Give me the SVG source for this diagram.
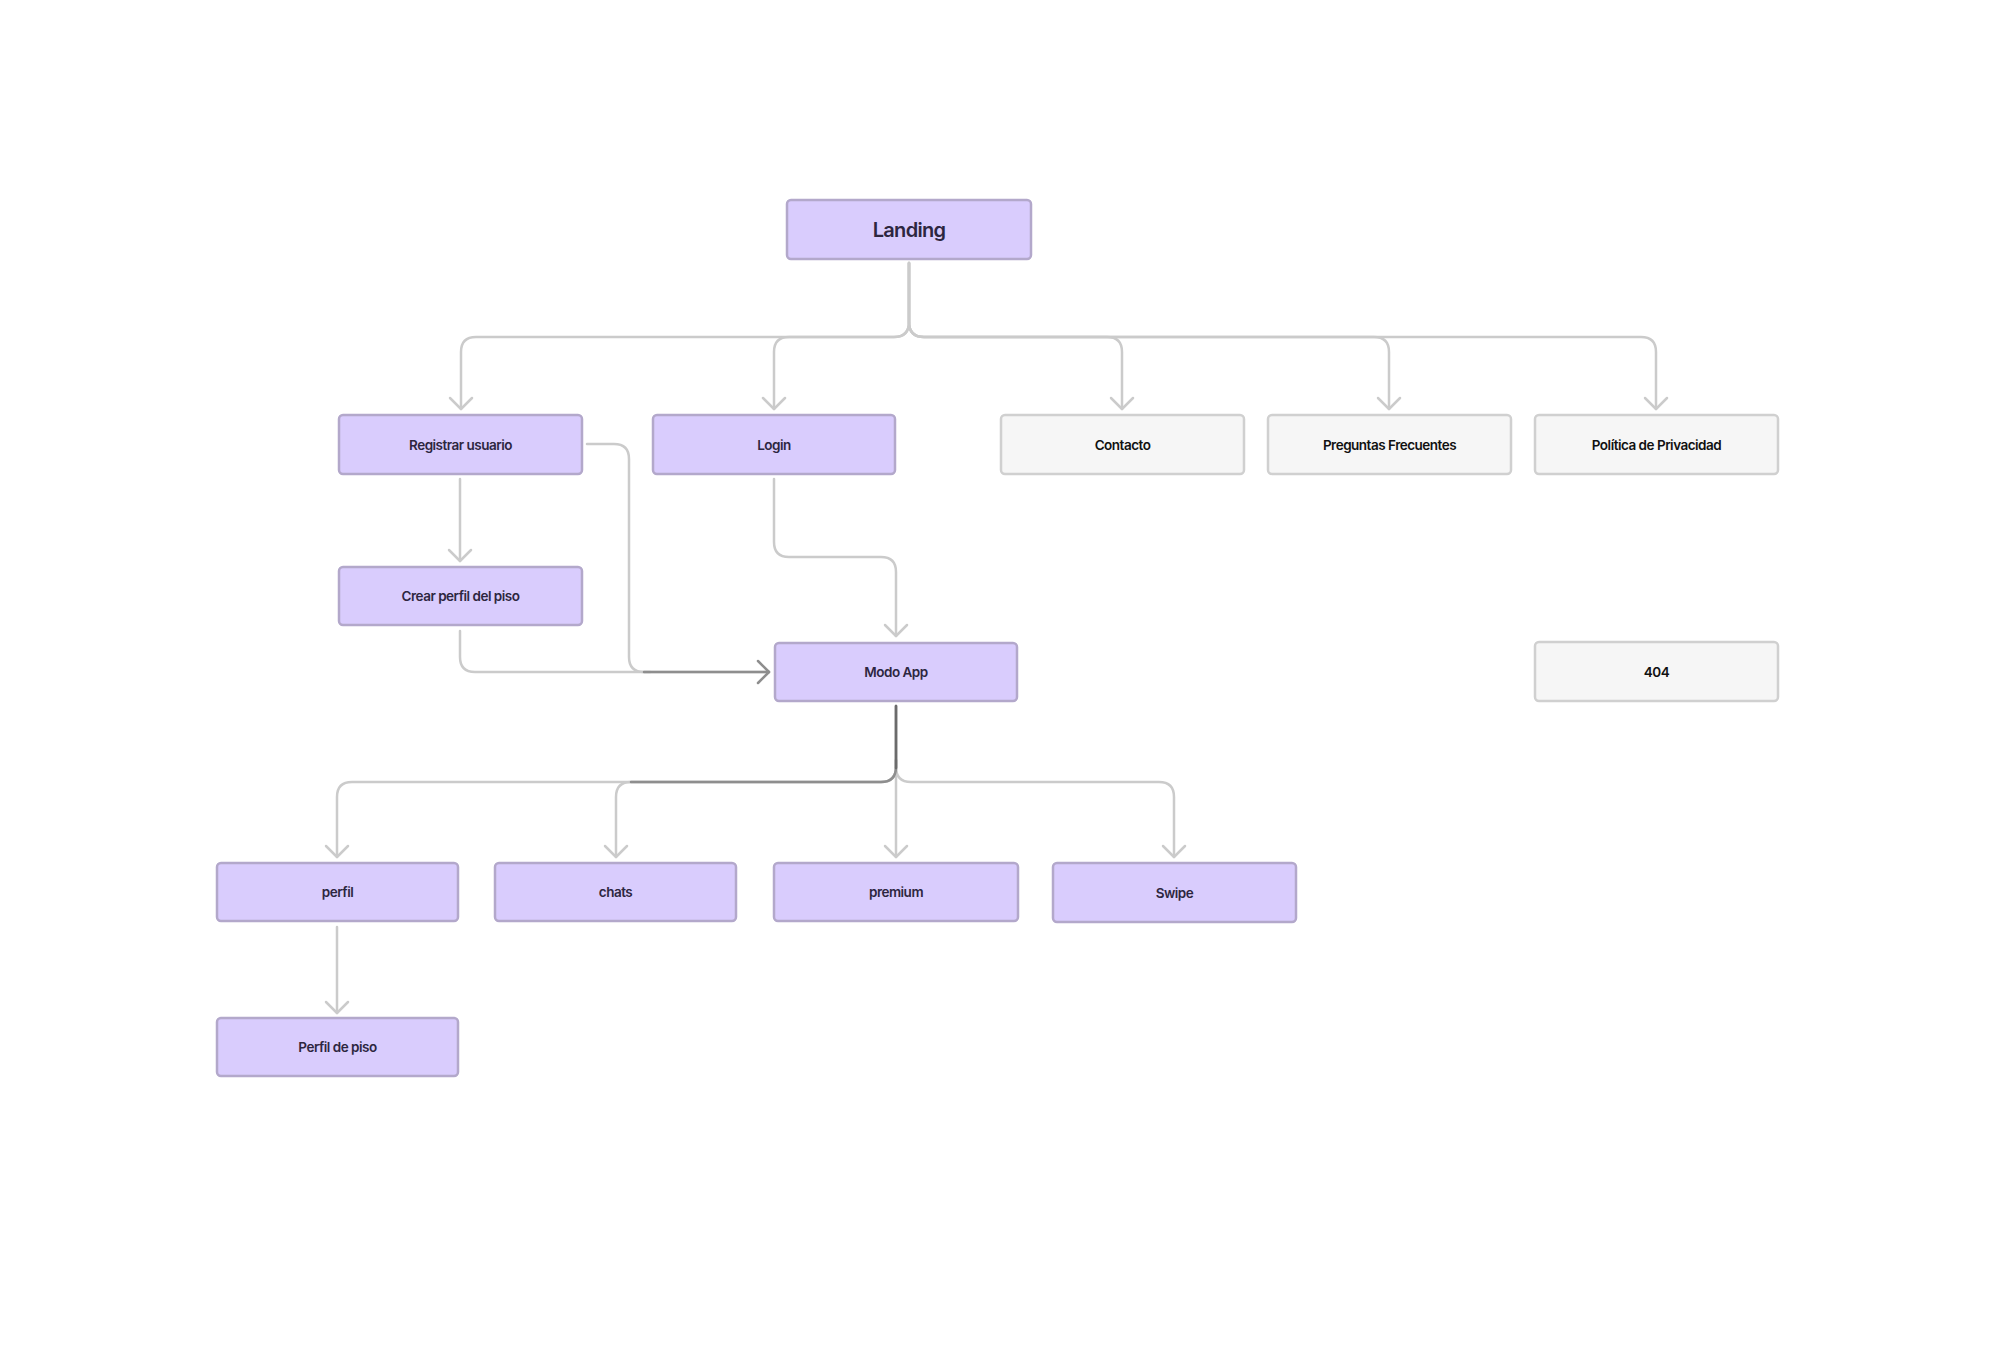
<svg xmlns="http://www.w3.org/2000/svg" width="2000" height="1363" viewBox="0 0 2000 1363">
<style>
.p rect{fill:#d9ccfd;stroke:#b3a8cb;stroke-width:2.5}
.g rect{fill:#f6f6f6;stroke:#d0d0d0;stroke-width:2.5}
text{font-family:Inter,"Noto Sans","Liberation Sans",sans-serif;font-weight:600;font-size:13.5px;letter-spacing:-0.5px;text-anchor:middle}
.p text{fill:#2d2640}
.g text{fill:#111111}
.c{fill:none;stroke:#cbcbcb;stroke-width:2.5;stroke-linejoin:round;stroke-linecap:round}
.d{fill:none;stroke:#8e8e8e;stroke-width:2.5;stroke-linejoin:round;stroke-linecap:round}
.s{fill:none;stroke:#6b6b6b;stroke-width:2.5;stroke-linecap:round}
</style>
<defs>
<marker id="a" markerUnits="userSpaceOnUse" viewBox="-14 -14 16 28" refX="0" refY="0" markerWidth="16" markerHeight="28" orient="auto" overflow="visible">
<path d="M-11,-11 L0,0 L-11,11" fill="none" stroke="#cbcbcb" stroke-width="2.5" stroke-linejoin="round" stroke-linecap="round"/>
</marker>
<marker id="ad" markerUnits="userSpaceOnUse" viewBox="-14 -14 16 28" refX="0" refY="0" markerWidth="16" markerHeight="28" orient="auto" overflow="visible">
<path d="M-11,-11 L0,0 L-11,11" fill="none" stroke="#8e8e8e" stroke-width="2.5" stroke-linejoin="round" stroke-linecap="round"/>
</marker>
</defs>
<rect width="2000" height="1363" fill="#ffffff"/>
<g id="connectors">
<path class="c" d="M909 263 V322 Q909 337 894 337 H476 Q461 337 461 352 V409" marker-end="url(#a)"/>
<path class="c" d="M909 263 V322 Q909 337 894 337 H789 Q774 337 774 352 V409" marker-end="url(#a)"/>
<path class="c" d="M909 263 V322 Q909 337 924 337 H1107 Q1122 337 1122 352 V409" marker-end="url(#a)"/>
<path class="c" d="M909 263 V322 Q909 337 924 337 H1374 Q1389 337 1389 352 V409" marker-end="url(#a)"/>
<path class="c" d="M909 263 V322 Q909 337 924 337 H1641 Q1656 337 1656 352 V409" marker-end="url(#a)"/>
<path class="c" d="M460 479 V561" marker-end="url(#a)"/>
<path class="c" d="M774 479 V542 Q774 557 789 557 H881 Q896 557 896 572 V636" marker-end="url(#a)"/>
<path class="c" d="M460 631 V657 Q460 672 475 672 H769"/>
<path class="c" d="M587 444 H614 Q629 444 629 459 V657 Q629 672 644 672 H650"/>
<path class="d" d="M644 672 H769" marker-end="url(#ad)"/>
<path class="c" d="M896 706 V767 Q896 782 881 782 H352 Q337 782 337 797 V857" marker-end="url(#a)"/>
<path class="c" d="M896 706 V767 Q896 782 881 782 H631 Q616 782 616 797 V857" marker-end="url(#a)"/>
<path class="c" d="M896 706 V857" marker-end="url(#a)"/>
<path class="c" d="M896 706 V767 Q896 782 911 782 H1159 Q1174 782 1174 797 V857" marker-end="url(#a)"/>
<path class="d" d="M896 760 V767 Q896 782 881 782 H631"/>
<path class="s" d="M896 706 V768"/>
<path class="c" d="M337 927 V1013" marker-end="url(#a)"/>
</g>
<g id="landing" class="p"><rect x="787" y="200" width="244" height="59" rx="4"/><text x="909" y="237" style="font-size:20px;letter-spacing:-0.7px">Landing</text></g>
<g id="registrar" class="p"><rect x="339" y="415" width="243" height="59" rx="4"/><text x="460.5" y="449.5">Registrar usuario</text></g>
<g id="login" class="p"><rect x="653" y="415" width="242" height="59" rx="4"/><text x="774" y="449.5">Login</text></g>
<g id="contacto" class="g"><rect x="1001" y="415" width="243" height="59" rx="4"/><text x="1122.5" y="449.5">Contacto</text></g>
<g id="preguntas" class="g"><rect x="1268" y="415" width="243" height="59" rx="4"/><text x="1389.5" y="449.5">Preguntas Frecuentes</text></g>
<g id="politica" class="g"><rect x="1535" y="415" width="243" height="59" rx="4"/><text x="1656.5" y="449.5">Política de Privacidad</text></g>
<g id="crear" class="p"><rect x="339" y="567" width="243" height="58" rx="4"/><text x="460.5" y="601">Crear perfil del piso</text></g>
<g id="modo" class="p"><rect x="775" y="643" width="242" height="58" rx="4"/><text x="896" y="677">Modo App</text></g>
<g id="e404" class="g"><rect x="1535" y="642" width="243" height="59" rx="4"/><text x="1656.5" y="676.5">404</text></g>
<g id="perfil" class="p"><rect x="217" y="863" width="241" height="58" rx="4"/><text x="337.5" y="897">perfil</text></g>
<g id="chats" class="p"><rect x="495" y="863" width="241" height="58" rx="4"/><text x="615.5" y="897">chats</text></g>
<g id="premium" class="p"><rect x="774" y="863" width="244" height="58" rx="4"/><text x="896" y="897">premium</text></g>
<g id="swipe" class="p"><rect x="1053" y="863" width="243" height="59" rx="4"/><text x="1174.5" y="897.5">Swipe</text></g>
<g id="perfilpiso" class="p"><rect x="217" y="1018" width="241" height="58" rx="4"/><text x="337.5" y="1052">Perfil de piso</text></g>
</svg>
